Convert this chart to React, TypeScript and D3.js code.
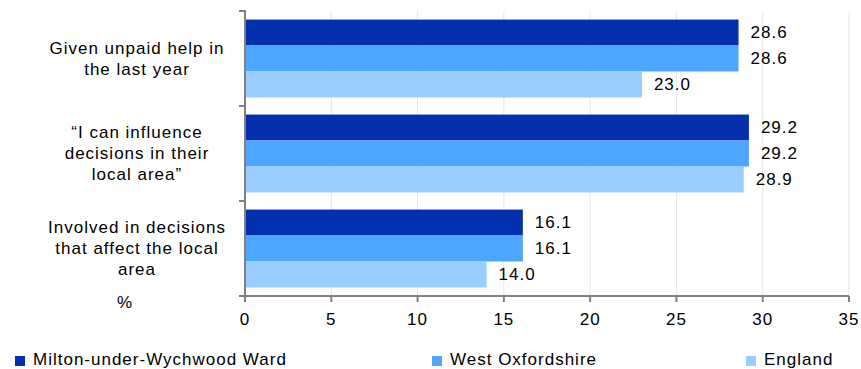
import { useEffect, useRef } from 'react';
import * as d3 from 'd3';

const categories = [
  ['Given unpaid help in', 'the last year'],
  ['\u201cI can influence', 'decisions in their', 'local area\u201d'],
  ['Involved in decisions', 'that affect the local', 'area'],
];
const seriesNames = ['Milton-under-Wychwood Ward', 'West Oxfordshire', 'England'];
const wardValues = [28.6, 29.2, 16.1];
const districtValues = [28.6, 29.2, 16.1];
const englandValues = [23.0, 28.9, 14.0];
const xTicks = [0, 5, 10, 15, 20, 25, 30, 35];
const colors = ['#0430AE', '#4DA6FF', '#99CCFF'];

export default function App() {
  const svgRef = useRef<SVGSVGElement>(null);

  useEffect(() => {
    document.body.style.margin = '0';
    if (!svgRef.current) return;
    const svg = d3.select(svgRef.current);
    svg.selectAll('*').remove();

    const width = 861;
    const height = 369;
    const font = '"Liberation Sans", Arial, sans-serif';
    const fs = '17px';
    const ls = '1px';
    const left = 245;
    const right = 849;
    const top = 11;
    const bottom = 296;

    const x = d3.scaleLinear().domain([0, 35]).range([left, right]);
    const idx = categories.map((_, i) => i);
    const y = d3.scaleBand<number>().domain(idx).range([top, bottom]).paddingInner(0.18).paddingOuter(0.09);
    const series = [wardValues, districtValues, englandValues];
    const ySub = d3.scaleBand<number>().domain([0, 1, 2]).range([0, y.bandwidth()]);

    svg.attr('width', width).attr('height', height)
      .style('font-family', font)
      .style('letter-spacing', ls);

    // gridlines
    svg.append('g')
      .selectAll('line')
      .data(xTicks.slice(1))
      .enter()
      .append('line')
      .attr('x1', d => x(d)).attr('x2', d => x(d))
      .attr('y1', top).attr('y2', bottom)
      .attr('stroke', '#e6e6e6')
      .attr('stroke-width', 1);

    // bars
    const groups = svg.append('g')
      .selectAll('g')
      .data(idx)
      .enter()
      .append('g')
      .attr('transform', i => `translate(0,${y(i)})`);

    series.forEach((vals, s) => {
      groups.append('rect')
        .attr('x', left)
        .attr('y', ySub(s)!)
        .attr('width', i => x(vals[i]) - left)
        .attr('height', ySub.bandwidth())
        .attr('fill', colors[s]);
      groups.append('text')
        .attr('x', i => x(vals[i]) + 12)
        .attr('y', ySub(s)! + ySub.bandwidth() / 2)
        .attr('dy', '0.35em')
        .attr('font-size', fs)
        .attr('fill', '#000')
        .text(i => vals[i].toFixed(1));
    });

    // x axis
    const xAxis = svg.append('g').attr('transform', `translate(0,${bottom})`);
    xAxis.append('line').attr('x1', left).attr('x2', right).attr('stroke', '#808080').attr('stroke-width', 2);
    xAxis.selectAll('.tick')
      .data(xTicks)
      .enter()
      .append('line')
      .attr('x1', d => x(d)).attr('x2', d => x(d))
      .attr('y1', 0).attr('y2', 6)
      .attr('stroke', '#808080').attr('stroke-width', 2);
    xAxis.selectAll('.lbl')
      .data(xTicks)
      .enter()
      .append('text')
      .attr('x', d => x(d))
      .attr('y', 23)
      .attr('dy', '0.35em')
      .attr('text-anchor', 'middle')
      .attr('font-size', fs)
      .text(d => d);

    // y axis
    svg.append('line')
      .attr('x1', left).attr('x2', left)
      .attr('y1', top - 1).attr('y2', bottom)
      .attr('stroke', '#808080').attr('stroke-width', 2);
    const yTickPos = [top, ...idx.map(i => y(i)! + y.bandwidth() + (y.step() - y.bandwidth()) / 2)];
    yTickPos[yTickPos.length - 1] = bottom;
    svg.append('g')
      .selectAll('line')
      .data(yTickPos)
      .enter()
      .append('line')
      .attr('x1', left - 6).attr('x2', left)
      .attr('y1', d => d).attr('y2', d => d)
      .attr('stroke', '#808080').attr('stroke-width', 2);

    // category labels
    categories.forEach((lines, i) => {
      const cy = y(i)! + y.bandwidth() / 2;
      const lh = 21;
      const t = svg.append('text')
        .attr('text-anchor', 'middle')
        .attr('font-size', fs)
        .attr('fill', '#000');
      lines.forEach((ln, j) => {
        t.append('tspan')
          .attr('x', 137)
          .attr('y', cy + (j - (lines.length - 1) / 2) * lh)
          .attr('dy', '0.35em')
          .text(ln);
      });
    });

    svg.append('text')
      .attr('x', 125).attr('y', 302).attr('dy', '0.35em')
      .attr('text-anchor', 'middle')
      .attr('font-size', fs)
      .text('%');

    // legend
    const legendX = [15, 432, 746];
    const legend = svg.append('g')
      .selectAll('g')
      .data(seriesNames)
      .enter()
      .append('g')
      .attr('transform', (_, i) => `translate(${legendX[i]},356)`);
    legend.append('rect')
      .attr('x', 0).attr('y', 0)
      .attr('width', 10).attr('height', 10)
      .attr('fill', (_, i) => colors[i]);
    legend.append('text')
      .attr('x', 18).attr('y', 9)
      .attr('font-size', fs)
      .text(d => d);
  }, []);

  return <svg ref={svgRef} style={{ display: 'block' }}></svg>;
}
